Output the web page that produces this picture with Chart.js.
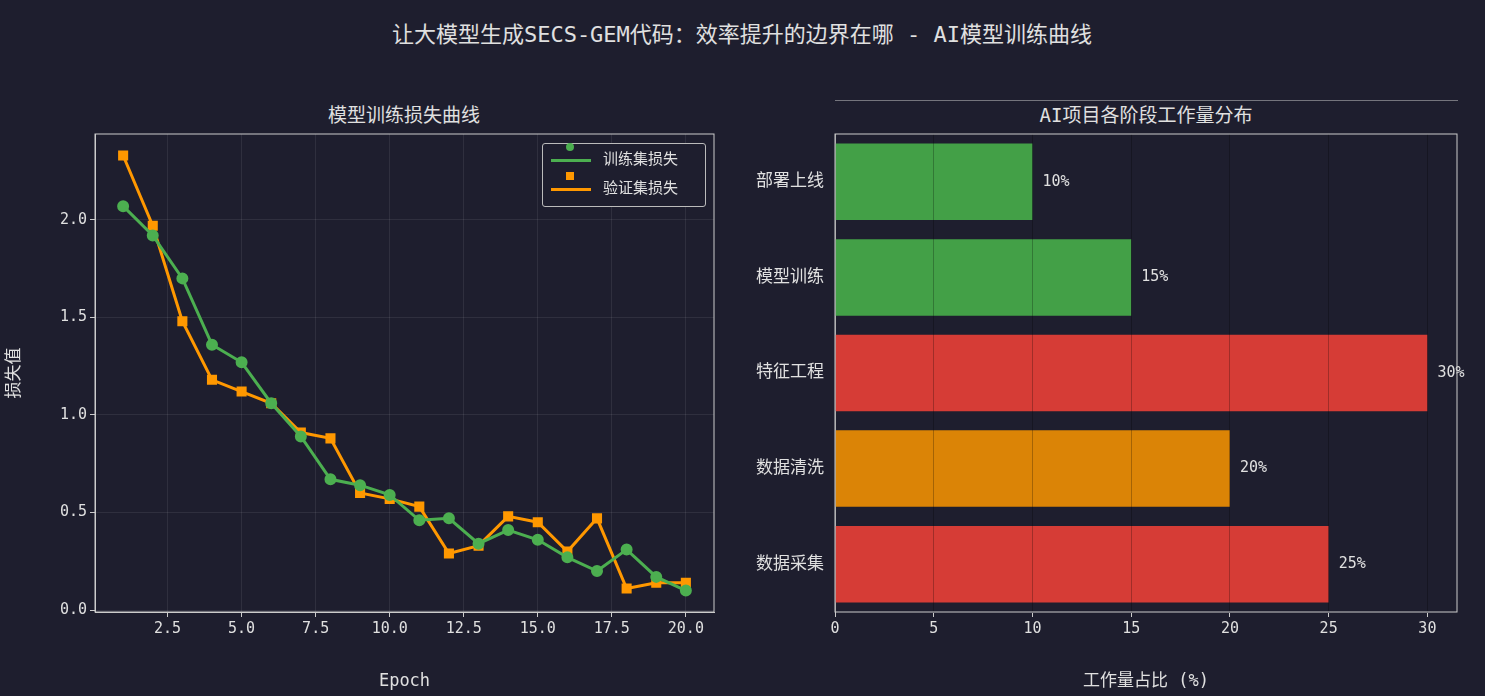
<!DOCTYPE html>
<html><head><meta charset="utf-8">
<script src="https://cdn.jsdelivr.net/npm/chart.js@4"></script>
<style>
body{margin:0;background:#1e1e2e;width:1485px;height:696px;overflow:hidden;position:relative;font-family:"DejaVu Sans Mono","Noto Sans CJK SC",monospace;color:#e0e0e0}
canvas{position:absolute}
.t{position:absolute;white-space:nowrap;transform:translateX(-50%)}
#leg{position:absolute;left:542px;top:143px;width:162px;height:62px;border:1px solid #bbb;border-radius:3px;background:#1e1e2e;font-size:15px}
#leg div{position:relative;height:27px;line-height:27px;padding-left:60px;margin-top:2px}
#leg span{position:absolute;left:8px;top:13px;width:40px;height:3px}
#leg i{position:absolute;left:23px;top:-3px;width:8px;height:8px}
</style></head><body>
<div class="t" style="left:742px;top:16px;font-size:22px">让大模型生成SECS-GEM代码：效率提升的边界在哪 - AI模型训练曲线</div>
<div class="t" style="left:404px;top:100px;font-size:19px">模型训练损失曲线</div>
<div class="t" style="left:1146px;top:100px;font-size:19px">AI项目各阶段工作量分布</div>
<canvas id="c1" width="740" height="596" style="left:0;top:100px"></canvas>
<canvas id="c2" width="745" height="596" style="left:740px;top:100px"></canvas>
<div id="leg">
<div><span style="background:#4caf50"></span><i style="background:#4caf50;border-radius:50%"></i>训练集损失</div>
<div><span style="background:#ff9800"></span><i style="background:#ff9800"></i>验证集损失</div>
</div>
<script>
const epochs=[1,2,3,4,5,6,7,8,9,10,11,12,13,14,15,16,17,18,19,20];
const trainLoss=[2.07,1.92,1.70,1.36,1.27,1.06,0.89,0.67,0.64,0.59,0.46,0.47,0.34,0.41,0.36,0.27,0.20,0.31,0.17,0.10];
const valLoss=[2.33,1.97,1.48,1.18,1.12,1.06,0.91,0.88,0.60,0.57,0.53,0.29,0.33,0.48,0.45,0.30,0.47,0.11,0.14,0.14];
const stages=["部署上线","模型训练","特征工程","数据清洗","数据采集"];
const workload=[10,15,30,20,25];
const stageColors=["#43a047","#43a047","#d63c36","#db8406","#d63c36"];

const F='"DejaVu Sans Mono","Noto Sans CJK SC",monospace';
Chart.defaults.font.family=F;Chart.defaults.color="#e0e0e0";Chart.defaults.animation=false;
const border={display:true,color:"#cccccc",width:1};
const tk={color:"#e0e0e0",font:{size:15}};
const boxPlugin={id:"box",afterDraw(c){const a=c.chartArea,x=c.ctx;x.save();x.strokeStyle="#cccccc";x.lineWidth=1;x.strokeRect(a.left,a.top,a.right-a.left,a.bottom-a.top);x.restore();}};

new Chart(document.getElementById("c1"),{type:"line",
data:{datasets:[
{data:epochs.map((e,i)=>({x:e,y:trainLoss[i]})),borderColor:"#4caf50",backgroundColor:"#4caf50",borderWidth:3,pointStyle:"circle",pointRadius:4.5},
{data:epochs.map((e,i)=>({x:e,y:valLoss[i]})),borderColor:"#ff9800",backgroundColor:"#ff9800",borderWidth:3,pointStyle:"rect",pointRadius:5}]},
options:{responsive:false,layout:{padding:{top:34,right:26}},plugins:{legend:{display:false},tooltip:{enabled:false}},
scales:{x:{type:"linear",min:0.05,max:20.95,afterBuildTicks(s){s.ticks=[2.5,5,7.5,10,12.5,15,17.5,20].map(v=>({value:v}));},
ticks:{...tk,callback:v=>v.toFixed(1)},grid:{color:"rgba(255,255,255,0.08)",tickColor:"#ccc",tickLength:5},border,
title:{display:true,text:"Epoch",font:{size:17},padding:{top:4}},afterFit(s){s.height=84;}},
y:{min:-0.01,max:2.44,afterBuildTicks(s){s.ticks=[0,0.5,1,1.5,2].map(v=>({value:v}));},ticks:{...tk,callback:v=>v.toFixed(1)},
grid:{color:"rgba(255,255,255,0.08)",tickColor:"#ccc",tickLength:5},border,
title:{display:true,text:"损失值",font:{size:17}},afterFit(s){s.width=95;}}}},plugins:[boxPlugin]});

const labelPlugin={id:"lbl",afterDatasetsDraw(c){const x=c.ctx;x.save();x.font="15px "+F;x.fillStyle="#e0e0e0";x.textBaseline="middle";
c.getDatasetMeta(0).data.forEach((b,i)=>x.fillText(workload[i]+"%",b.x+10,b.y));x.restore();}};
new Chart(document.getElementById("c2"),{type:"bar",
data:{labels:stages,datasets:[{data:workload,backgroundColor:stageColors,categoryPercentage:1,barPercentage:0.8}]},
options:{indexAxis:"y",responsive:false,layout:{padding:{top:34,right:28}},plugins:{legend:{display:false},tooltip:{enabled:false}},
scales:{x:{min:0,max:31.5,afterBuildTicks(s){s.ticks=[0,5,10,15,20,25,30].map(v=>({value:v}));},ticks:tk,
grid:{color:"rgba(0,0,0,0.25)",z:1,tickColor:"#ccc",tickLength:5},border,
title:{display:true,text:"工作量占比 (%)",font:{size:17},padding:{top:4}},afterFit(s){s.height=84;}},
y:{ticks:{...tk,font:{size:17}},grid:{display:false,tickColor:"#ccc"},border,afterFit(s){s.width=95;}}}},plugins:[boxPlugin,labelPlugin]});
</script></body></html>
